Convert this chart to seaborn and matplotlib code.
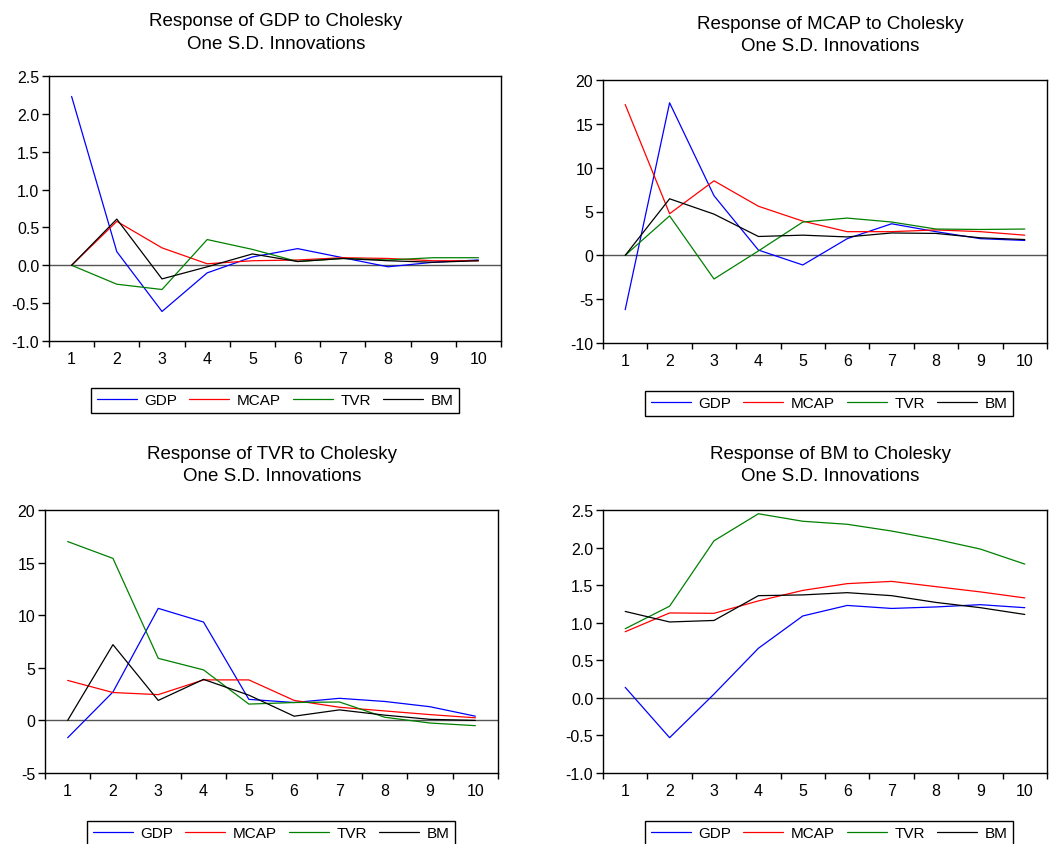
import numpy as np
import pandas as pd
import seaborn as sns
import matplotlib.pyplot as plt
from matplotlib.ticker import FixedLocator, FormatStrFormatter

periods = list(range(1, 11))
shocks = ['GDP', 'MCAP', 'TVR', 'BM']
colors = ['#0000ff', '#ff0000', '#008000', '#000000']

# response of GDP
gdp_gdp = [2.23, 0.18, -0.61, -0.10, 0.11, 0.22, 0.10, -0.02, 0.04, 0.07]
gdp_mcap = [0.0, 0.58, 0.23, 0.02, 0.06, 0.07, 0.10, 0.09, 0.06, 0.06]
gdp_tvr = [0.0, -0.25, -0.32, 0.34, 0.21, 0.05, 0.09, 0.07, 0.10, 0.10]
gdp_bm = [0.0, 0.61, -0.18, -0.02, 0.15, 0.05, 0.09, 0.06, 0.04, 0.06]

# response of MCAP
mcap_gdp = [-6.2, 17.4, 6.8, 0.6, -1.1, 1.9, 3.6, 2.7, 1.9, 1.7]
mcap_mcap = [17.2, 4.75, 8.5, 5.6, 3.9, 2.7, 2.7, 2.9, 2.7, 2.3]
mcap_tvr = [0.0, 4.5, -2.7, 0.5, 3.8, 4.25, 3.8, 3.0, 2.95, 3.0]
mcap_bm = [0.0, 6.45, 4.7, 2.15, 2.3, 2.1, 2.55, 2.5, 2.0, 1.8]

# response of TVR
tvr_gdp = [-1.65, 2.7, 10.65, 9.35, 2.0, 1.7, 2.1, 1.8, 1.3, 0.4]
tvr_mcap = [3.8, 2.65, 2.45, 3.85, 3.85, 1.9, 1.25, 0.9, 0.55, 0.25]
tvr_tvr = [17.0, 15.4, 5.9, 4.8, 1.55, 1.7, 1.75, 0.3, -0.25, -0.5]
tvr_bm = [0.0, 7.2, 1.9, 3.9, 2.4, 0.4, 1.0, 0.5, 0.1, 0.0]

# response of BM
bm_gdp = [0.14, -0.53, 0.05, 0.66, 1.09, 1.23, 1.19, 1.21, 1.24, 1.20]
bm_mcap = [0.88, 1.13, 1.125, 1.29, 1.43, 1.52, 1.55, 1.48, 1.41, 1.33]
bm_tvr = [0.92, 1.22, 2.09, 2.45, 2.35, 2.31, 2.22, 2.11, 1.98, 1.78]
bm_bm = [1.15, 1.01, 1.03, 1.36, 1.37, 1.40, 1.36, 1.27, 1.20, 1.11]

sns.set_style('white')
plt.rcParams['font.family'] = ['Liberation Sans', 'DejaVu Sans']
plt.rcParams['text.color'] = 'black'
plt.rcParams['xtick.color'] = 'black'
plt.rcParams['ytick.color'] = 'black'
plt.rcParams['xtick.labelcolor'] = 'black'
plt.rcParams['ytick.labelcolor'] = 'black'

W, H = 1049, 845
fig = plt.figure(figsize=(W / 100, H / 100), dpi=100)


def px_axes(left, top, right, bottom):
    return fig.add_axes([left / W, (H - bottom) / H, (right - left) / W, (bottom - top) / H])


panels = [
    ('GDP', [gdp_gdp, gdp_mcap, gdp_tvr, gdp_bm], (49, 77, 501, 342), (-1.0, 2.5), np.arange(-1.0, 2.51, 0.5), '%.1f', 276, 33, (92, 389, 458, 414)),
    ('MCAP', [mcap_gdp, mcap_mcap, mcap_tvr, mcap_bm], (603, 81, 1047, 344), (-10, 20), np.arange(-10, 21, 5), '%d', 830, 35.5, (646, 392, 1012, 417)),
    ('TVR', [tvr_gdp, tvr_mcap, tvr_tvr, tvr_bm], (45, 511, 498, 774), (-5, 20), np.arange(-5, 21, 5), '%d', 272, 465.5, (88, 822, 454, 847)),
    ('BM', [bm_gdp, bm_mcap, bm_tvr, bm_bm], (603, 511, 1047, 774), (-1.0, 2.5), np.arange(-1.0, 2.51, 0.5), '%.1f', 830, 465.5, (646, 822, 1012, 847)),
]

for name, series, box, ylim, yticks, fmt, tx, ty, lbox in panels:
    ax = px_axes(*box)
    df = pd.DataFrame({'period': periods * 4,
                       'value': sum(series, []),
                       'shock': [s for s in shocks for _ in periods]})
    ax.axhline(0, color='#555555', lw=1.0, zorder=1)
    sns.lineplot(data=df, x='period', y='value', hue='shock', hue_order=shocks,
                 palette=colors, lw=0.9, ax=ax, legend=False, zorder=2)
    ax.set_xlim(0.5, 10.5)
    ax.set_ylim(*ylim)
    ax.set_xlabel('')
    ax.set_ylabel('')
    ax.set_xticks(periods)
    ax.xaxis.set_minor_locator(FixedLocator(np.arange(0.5, 10.6, 1)))
    ax.tick_params(axis='x', which='major', length=0, pad=7, labelsize=11.5)
    ax.tick_params(axis='x', which='minor', length=4.5, width=1, direction='out', bottom=True)
    ax.set_yticks(yticks)
    ax.yaxis.set_major_formatter(FormatStrFormatter(fmt))
    ax.tick_params(axis='y', length=5, width=1, direction='out', left=True, labelsize=11.5, pad=2)
    for sp in ax.spines.values():
        sp.set_color('black')
        sp.set_linewidth(1.0)
    fig.text(tx / W, 1 - ty / H, 'Response of %s to Cholesky\nOne S.D. Innovations' % name,
             ha='center', va='center', fontsize=13.5, linespacing=1.45)

    handles = [plt.Line2D([], [], color=c, lw=0.9) for c in colors]
    l, t, r, b = lbox
    leg = fig.legend(handles, shocks, loc='center', ncol=4,
                     bbox_to_anchor=((l + r) / 2 / W, 1 - (t + b) / 2 / H),
                     frameon=True, fancybox=False, edgecolor='black', framealpha=1,
                     fontsize=11, handlelength=2.6, columnspacing=0.8, handletextpad=0.5,
                     borderpad=0.35)
    leg.get_frame().set_linewidth(1.0)

fig.savefig('out.png', dpi=100)
